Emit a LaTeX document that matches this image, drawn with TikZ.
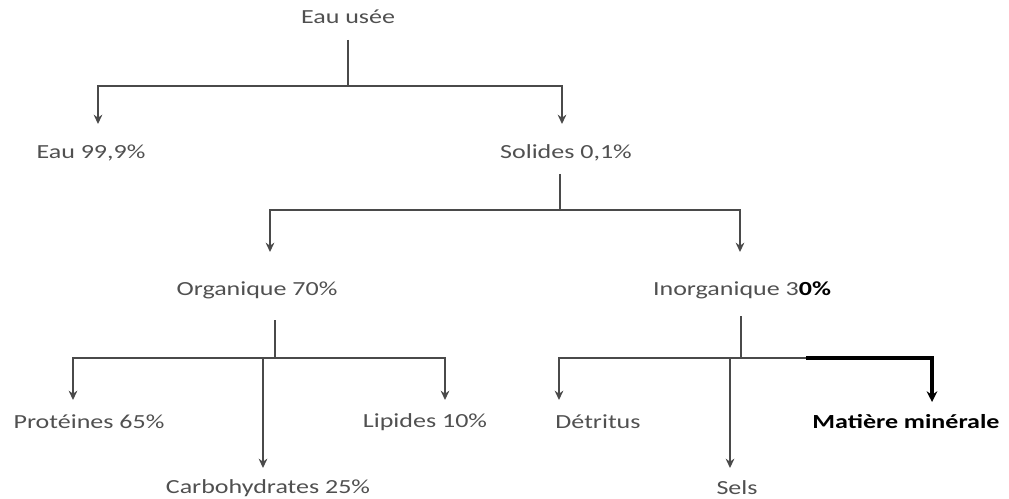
\documentclass[tikz,border=0pt]{standalone}
\usepackage{fontspec}
\setmainfont{Carlito}[FakeStretch=1.3]
\usetikzlibrary{arrows.meta}
\definecolor{trunk}{HTML}{4A4A4A}
\definecolor{label}{HTML}{505050}

\begin{document}
\begin{tikzpicture}[x=0.75pt, y=-0.75pt,
  every node/.style={text=label, font=\fontsize{15}{18}\selectfont},
  branch/.style={draw=trunk, line width=1.3pt},
  arr/.style={branch, -{Stealth[length=7pt,width=6.5pt]}},
  boldarr/.style={draw=black, line width=2.4pt, -{Stealth[length=8pt,width=8pt]}}]
  \useasboundingbox (0,0) rectangle (1009,499);

  % Top level: waste water splits into water and solids
  \node (usee) at (348,17) {Eau usée};
  \node (eau) at (91,153) {Eau 99,9\%};
  \node (solides) at (566,153) {Solides 0,1\%};
  \coordinate (j1) at (348,86);
  \coordinate (teau) at (98,124);
  \coordinate (tsol) at (562,124);
  \draw[branch] (usee.south |- 0,40) -- (j1);
  \draw[arr] (j1) -| (teau);
  \draw[arr] (j1) -| (tsol);

  % Solids: organic and inorganic
  \node (org) at (257,290) {Organique 70\%};
  \node (inorg) at (742,290) {Inorganique 3\textbf{\textcolor{black}{0\%}}};
  \coordinate (j2) at (560,210);
  \coordinate (torg) at (270,252);
  \coordinate (tinorg) at (740,252);
  \draw[branch] (solides.south -| j2) ++(0,8) -- (j2);
  \draw[arr] (j2) -| (torg);
  \draw[arr] (j2) -| (tinorg);

  % Organic fractions
  \node (prot) at (89,422) {Protéines 65\%};
  \node (carb) at (268,488) {Carbohydrates 25\%};
  \node (lip) at (425,422) {Lipides 10\%};
  \coordinate (j3) at (275,358);
  \coordinate (tprot) at (73,400);
  \coordinate (tcarb) at (263,468);
  \coordinate (tlip) at (445,400);
  \draw[branch] (275,320) -- (j3);
  \draw[arr] (j3) -| (tprot);
  \draw[arr] (j3 -| tcarb) -- (tcarb);
  \draw[arr] (j3) -| (tlip);

  % Inorganic fractions
  \node (detr) at (598,422) {Détritus};
  \node (sels) at (737,488) {Sels};
  \node[text=black, font=\fontsize{15}{18}\selectfont\bfseries] (miner) at (906,422) {Matière minérale};
  \coordinate (j4) at (741,358);
  \coordinate (tdetr) at (559,400);
  \coordinate (tsels) at (730,468);
  \coordinate (tminer) at (932,402);
  \draw[branch] (741,316) -- (j4);
  \draw[arr] (j4) -| (tdetr);
  \draw[arr] (j4 -| tsels) -- (tsels);
  \draw[branch] (j4) -- (840,358);
  \draw[boldarr] (806,358) -| (tminer);
\end{tikzpicture}
\end{document}
